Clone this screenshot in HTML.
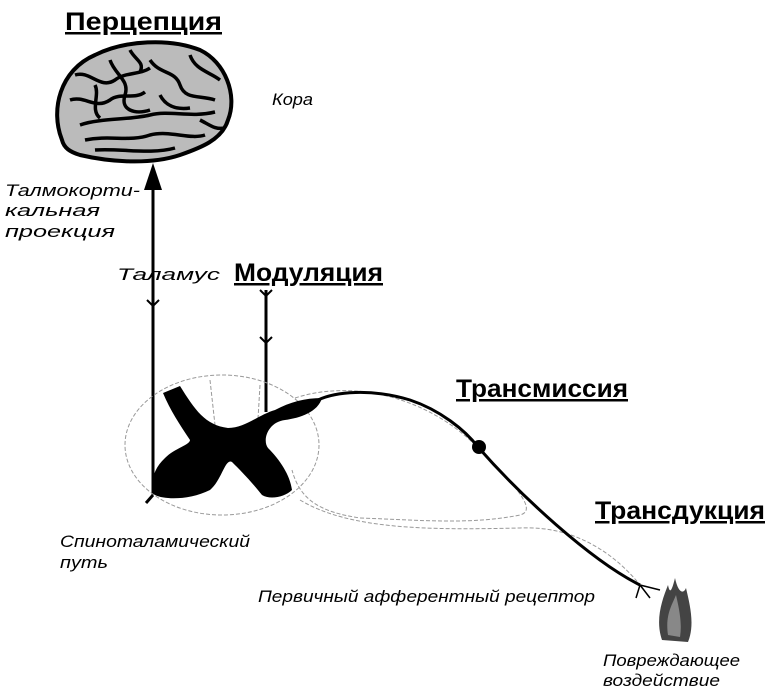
<!DOCTYPE html>
<html><head><meta charset="utf-8"><style>
body{margin:0;background:#fff;width:768px;height:688px;overflow:hidden}
svg{display:block}
.h{font-family:"Liberation Sans",sans-serif;font-weight:bold;font-size:25px;text-decoration:underline}
.i{font-family:"Liberation Sans",sans-serif;font-style:italic;font-size:17px}
</style></head><body>
<svg width="768" height="688" viewBox="0 0 768 688">
<text x="65" y="30" class="h" textLength="157" lengthAdjust="spacingAndGlyphs">Перцепция</text>
<text x="234" y="281" class="h" textLength="149" lengthAdjust="spacingAndGlyphs">Модуляция</text>
<text x="456" y="397" class="h" textLength="172" lengthAdjust="spacingAndGlyphs">Трансмиссия</text>
<text x="595" y="519" class="h" textLength="170" lengthAdjust="spacingAndGlyphs">Трансдукция</text>
<text x="272" y="105" class="i" textLength="41" lengthAdjust="spacingAndGlyphs">Кора</text>
<text x="5" y="196" class="i" textLength="135" lengthAdjust="spacingAndGlyphs">Талмокорти-</text>
<text x="5" y="216" class="i" textLength="95" lengthAdjust="spacingAndGlyphs">кальная</text>
<text x="5" y="237" class="i" textLength="110" lengthAdjust="spacingAndGlyphs">проекция</text>
<text x="117" y="280" class="i" textLength="103" lengthAdjust="spacingAndGlyphs">Таламус</text>
<text x="60" y="547" class="i" textLength="190" lengthAdjust="spacingAndGlyphs">Спиноталамический</text>
<text x="60" y="568" class="i" textLength="48" lengthAdjust="spacingAndGlyphs">путь</text>
<text x="258" y="602" class="i" textLength="337" lengthAdjust="spacingAndGlyphs">Первичный афферентный рецептор</text>
<text x="603" y="666" class="i" textLength="137" lengthAdjust="spacingAndGlyphs">Повреждающее</text>
<text x="603" y="686" class="i" textLength="117" lengthAdjust="spacingAndGlyphs">воздействие</text>
<!-- brain -->
<path d="M62 140 C50 110 60 70 95 55 C125 40 170 38 200 50 C225 62 238 95 228 120 C222 140 200 148 180 155 C150 165 110 162 80 155 C70 152 64 148 62 140 Z" fill="#bbb" stroke="#000" stroke-width="4"/>
<g fill="none" stroke="#000" stroke-width="3.5">
<path d="M75 75 C90 70 100 90 115 80 C125 72 140 75 150 68"/>
<path d="M70 100 C85 95 95 110 110 100 C120 92 135 100 145 92"/>
<path d="M110 60 C115 75 130 80 125 95 C120 110 135 115 150 110"/>
<path d="M150 60 C160 75 175 70 180 85 C185 100 200 95 215 100"/>
<path d="M190 55 C195 70 210 72 220 80"/>
<path d="M80 125 C100 118 130 120 150 115 C170 110 190 118 215 112"/>
<path d="M85 140 C110 135 130 142 150 135 C170 130 190 140 205 135"/>
<path d="M95 150 C120 148 150 155 175 148"/>
<path d="M160 95 C165 105 175 110 190 108"/>
<path d="M95 85 C100 95 90 110 100 118"/>
<path d="M130 50 C135 60 145 62 140 72"/>
<path d="M200 120 C210 125 215 130 225 128"/>
</g>
<!-- arrow -->
<line x1="153" y1="495" x2="153" y2="185" stroke="#000" stroke-width="3"/>
<polygon points="153,163 144,190 162,190" fill="#000"/>
<path d="M147 300 L153 306 L159 300" fill="none" stroke="#000" stroke-width="2"/>
<!-- modulation line -->
<line x1="266" y1="290" x2="266" y2="412" stroke="#000" stroke-width="3"/>
<path d="M260 290 L266 296 L272 290 M260 337 L266 343 L272 337" fill="none" stroke="#000" stroke-width="2"/>
<!-- outlines -->
<g fill="none" stroke="#999" stroke-width="1" stroke-dasharray="4 2">
<ellipse cx="222" cy="445" rx="97" ry="70"/>
<path d="M295 398 C350 380 420 395 470 440 C510 480 540 510 520 515 C470 525 420 520 360 518 C320 512 300 500 292 470"/>
<path d="M300 500 C350 530 430 530 520 528 C580 525 620 560 640 585"/>
<path d="M210 380 L220 470 M260 385 L255 470"/>
</g>
<!-- grey matter butterfly -->
<path d="M163 393 L180 386 C195 410 205 425 228 428 C245 428 258 415 275 410 C290 402 305 398 322 398 C318 412 300 418 285 420 C268 422 262 440 268 448 C280 460 290 475 292 490 C285 497 270 500 262 495 C250 480 240 470 232 462 C225 458 222 480 210 490 C190 500 165 500 155 495 C150 485 152 470 165 458 C175 448 190 445 190 440 C180 425 170 410 163 393 Z" fill="#000"/>
<!-- afferent fiber -->
<path d="M318 400 C335 392 370 388 410 400 C440 410 465 430 478 447 C520 495 590 560 640 585" fill="none" stroke="#000" stroke-width="3"/>
<circle cx="479" cy="447" r="7" fill="#000"/>
<path d="M640 585 L650 598 M640 585 L636 598 M640 585 L660 590" stroke="#000" stroke-width="1.5"/>
<line x1="153" y1="495" x2="146" y2="503" stroke="#000" stroke-width="3"/>
<!-- flame -->
<path d="M662 640 C655 620 662 600 668 585 C670 595 672 590 675 578 C678 592 683 595 686 588 C690 605 695 625 688 642 Z" fill="#444"/>
<path d="M668 635 C665 615 672 605 676 595 C680 612 682 625 680 637 Z" fill="#888"/>
</svg>
</body></html>
